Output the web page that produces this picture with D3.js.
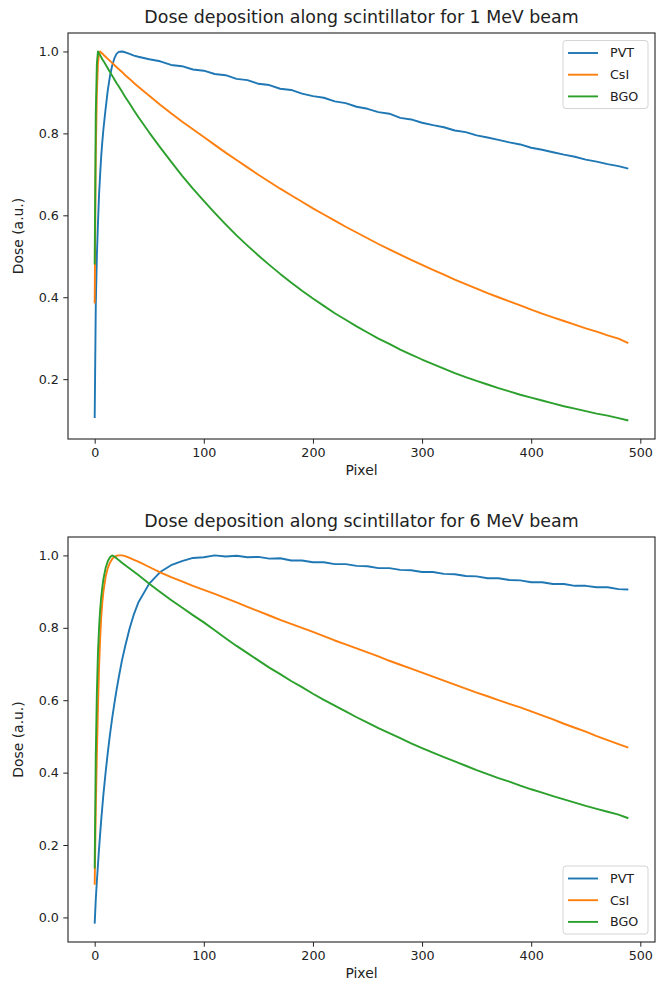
<!DOCTYPE html>
<html>
<head>
<meta charset="utf-8">
<script src="https://cdn.jsdelivr.net/npm/d3@7"></script>
<style>
    body { margin: 0; background: #fff; }
    svg { display: block; font-family: "DejaVu Sans", sans-serif; }
</style>
</head>
<body>
<div id="chart"></div>
<script>
// sampled pixel positions (shared by both panels)
const pixels = [0, 1, 2, 3, 4, 5, 6, 7, 8, 10, 12, 14, 16, 18, 20, 22, 25, 28, 32, 36, 40,
    50, 60, 70, 80, 90, 100, 110, 120, 130, 140, 150, 160, 170, 180, 190,
    200, 210, 220, 230, 240, 250, 260, 270, 280, 290, 300, 310, 320, 330, 340,
    350, 360, 370, 380, 390, 400, 410, 420, 430, 440, 450, 460, 470, 480, 489];

const seriesNames = ['PVT', 'CsI', 'BGO'];
const titles = [
    'Dose deposition along scintillator for 1 MeV beam',
    'Dose deposition along scintillator for 6 MeV beam'
];
const xTicks = [0, 100, 200, 300, 400, 500];
const yTicksTop = [0.2, 0.4, 0.6, 0.8, 1.0];
const yTicksBottom = [0.0, 0.2, 0.4, 0.6, 0.8, 1.0];

// 1 MeV
const pvt1 = [0.105, 0.38, 0.50, 0.58, 0.65, 0.70, 0.745, 0.78, 0.81, 0.86, 0.905, 0.94, 0.965, 0.983, 0.994, 0.999, 1.0, 0.998, 0.994, 0.99, 0.987,
    0.981, 0.976, 0.967, 0.964, 0.956, 0.953, 0.945, 0.942, 0.933, 0.93, 0.921, 0.918, 0.909, 0.906, 0.897,
    0.891, 0.887, 0.878, 0.874, 0.865, 0.86, 0.852, 0.848, 0.838, 0.834, 0.826, 0.82, 0.815, 0.807, 0.803,
    0.795, 0.79, 0.784, 0.778, 0.773, 0.765, 0.76, 0.754, 0.748, 0.743, 0.736, 0.731, 0.725, 0.72, 0.714];
const csi1 = [0.385, 0.75, 0.9, 0.97, 0.995, 1.0, 0.997, 0.995, 0.992, 0.987, 0.982, 0.977, 0.972, 0.967, 0.962, 0.957, 0.95, 0.942, 0.933, 0.923, 0.914,
    0.892, 0.87, 0.849, 0.829, 0.81, 0.791, 0.772, 0.753, 0.735, 0.717, 0.699, 0.682, 0.665, 0.649, 0.633,
    0.617, 0.602, 0.587, 0.572, 0.558, 0.544, 0.53, 0.517, 0.504, 0.491, 0.479, 0.467, 0.455, 0.443, 0.432,
    0.421, 0.41, 0.4, 0.39, 0.38, 0.37, 0.36, 0.351, 0.342, 0.333, 0.324, 0.316, 0.307, 0.299, 0.288];
const bgo1 = [0.48, 0.85, 0.97, 1.0, 0.995, 0.991, 0.986, 0.981, 0.977, 0.968, 0.959, 0.95, 0.941, 0.932, 0.923, 0.915, 0.902, 0.889, 0.873, 0.856, 0.84,
    0.802, 0.766, 0.731, 0.697, 0.665, 0.635, 0.606, 0.578, 0.551, 0.526, 0.502, 0.479, 0.457, 0.436, 0.416,
    0.397, 0.379, 0.361, 0.345, 0.329, 0.314, 0.299, 0.286, 0.272, 0.26, 0.248, 0.237, 0.226, 0.215, 0.205,
    0.196, 0.187, 0.178, 0.17, 0.162, 0.155, 0.148, 0.141, 0.134, 0.128, 0.122, 0.116, 0.111, 0.105, 0.099];

// 6 MeV
const pvt6 = [-0.017, 0.05, 0.1, 0.145, 0.19, 0.23, 0.27, 0.305, 0.34, 0.4, 0.455, 0.505, 0.55, 0.59, 0.628, 0.662, 0.71, 0.75, 0.798, 0.838, 0.87,
    0.922, 0.954, 0.973, 0.984, 0.993, 0.995, 1.0, 0.997, 0.999, 0.995, 0.996, 0.991, 0.992, 0.986, 0.986,
    0.981, 0.981, 0.976, 0.976, 0.971, 0.97, 0.965, 0.965, 0.96, 0.959, 0.954, 0.954, 0.949, 0.948, 0.943,
    0.942, 0.937, 0.937, 0.932, 0.931, 0.926, 0.926, 0.921, 0.921, 0.916, 0.916, 0.912, 0.912, 0.907, 0.906];
const csi6 = [0.09, 0.3, 0.45, 0.58, 0.69, 0.77, 0.83, 0.87, 0.9, 0.94, 0.965, 0.98, 0.99, 0.996, 0.999, 1.0, 1.0, 0.998, 0.993, 0.988, 0.983,
    0.968, 0.953, 0.94, 0.928, 0.916, 0.905, 0.894, 0.882, 0.87, 0.858, 0.846, 0.834, 0.822, 0.811, 0.8,
    0.789, 0.777, 0.765, 0.754, 0.743, 0.732, 0.721, 0.709, 0.698, 0.687, 0.676, 0.665, 0.654, 0.643, 0.632,
    0.621, 0.611, 0.6, 0.59, 0.58, 0.569, 0.558, 0.547, 0.535, 0.524, 0.513, 0.501, 0.49, 0.479, 0.469];
const bgo6 = [0.135, 0.45, 0.62, 0.73, 0.8, 0.85, 0.885, 0.912, 0.935, 0.965, 0.984, 0.995, 1.0, 0.997, 0.992, 0.987, 0.98, 0.973, 0.964, 0.955, 0.946,
    0.922, 0.899, 0.877, 0.856, 0.835, 0.815, 0.793, 0.771, 0.75, 0.73, 0.71, 0.69, 0.672, 0.653, 0.636,
    0.618, 0.601, 0.585, 0.569, 0.553, 0.538, 0.523, 0.509, 0.495, 0.481, 0.468, 0.455, 0.443, 0.431, 0.419,
    0.407, 0.396, 0.385, 0.375, 0.364, 0.354, 0.345, 0.335, 0.326, 0.317, 0.308, 0.3, 0.292, 0.284, 0.274];

const COLORS = ['#1f77b4', '#ff7f0e', '#2ca02c'];
const WIDTH = 667;
const HEIGHT = 985;
const LEFT = 68;
const RIGHT = 655;

const svg = d3.select('#chart')
    .append('svg')
    .attr('width', WIDTH)
    .attr('height', HEIGHT);

// matplotlib style 5% margins
function padded(extent) {
    const pad = (extent[1] - extent[0]) * 0.05;
    return [extent[0] - pad, extent[1] + pad];
}

function drawPanel(opts) {
    const { top, bottom, series, title, yTicks, legendTop } = opts;
    const g = svg.append('g');

    const xScale = d3.scaleLinear()
        .domain(padded(d3.extent(pixels)))
        .range([LEFT, RIGHT]);

    const allVals = [].concat(...series);
    const yScale = d3.scaleLinear()
        .domain(padded(d3.extent(allVals)))
        .range([bottom, top]);

    // Axes
    const xAxis = g.append('g')
        .attr('transform', `translate(0,${bottom})`)
        .call(d3.axisBottom(xScale).tickValues(xTicks).tickSize(4.7).tickPadding(4.5).tickSizeOuter(0));
    const yAxis = g.append('g')
        .attr('transform', `translate(${LEFT},0)`)
        .call(d3.axisLeft(yScale).tickValues(yTicks).tickFormat(d3.format('.1f')).tickSize(4.7).tickPadding(4.5).tickSizeOuter(0));

    [xAxis, yAxis].forEach(a => {
        a.select('.domain').remove();
        a.selectAll('line').attr('stroke', '#222').attr('stroke-width', 1);
        a.selectAll('text')
            .attr('fill', '#222')
            .style('font-size', '12.7px')
            .style('font-family', '"DejaVu Sans", sans-serif');
    });

    // Lines
    const line = d3.line()
        .x((d, i) => xScale(pixels[i]))
        .y(d => yScale(d));

    g.selectAll('path.series')
        .data(series)
        .enter()
        .append('path')
        .attr('class', 'series')
        .attr('d', d => line(d))
        .attr('fill', 'none')
        .attr('stroke', (d, i) => COLORS[i])
        .attr('stroke-width', 1.9)
        .attr('stroke-linejoin', 'round');

    // Frame
    g.append('rect')
        .attr('x', LEFT)
        .attr('y', top)
        .attr('width', RIGHT - LEFT)
        .attr('height', bottom - top)
        .attr('fill', 'none')
        .attr('stroke', '#222')
        .attr('stroke-width', 1.1);

    // Title and labels
    g.append('text')
        .attr('x', (LEFT + RIGHT) / 2)
        .attr('y', top - 10)
        .attr('text-anchor', 'middle')
        .attr('fill', '#222')
        .style('font-size', '17.4px')
        .text(title);

    g.append('text')
        .attr('x', (LEFT + RIGHT) / 2)
        .attr('y', bottom + 36)
        .attr('text-anchor', 'middle')
        .attr('fill', '#222')
        .style('font-size', '13.9px')
        .text('Pixel');

    g.append('text')
        .attr('transform', `translate(18,${(top + bottom) / 2}) rotate(-90)`)
        .attr('text-anchor', 'middle')
        .attr('dy', '0.35em')
        .attr('fill', '#222')
        .style('font-size', '13.9px')
        .text('Dose (a.u.)');

    // Legend
    const lg = g.append('g')
        .attr('transform', `translate(563,${legendTop})`);
    lg.append('rect')
        .attr('width', 85)
        .attr('height', 68)
        .attr('rx', 3)
        .attr('fill', 'rgba(255,255,255,0.8)')
        .attr('stroke', '#d4d4d4')
        .attr('stroke-width', 1);
    const items = lg.selectAll('g.item')
        .data(seriesNames)
        .enter()
        .append('g')
        .attr('class', 'item')
        .attr('transform', (d, i) => `translate(0,${12.5 + i * 21.7})`);
    items.append('line')
        .attr('x1', 5)
        .attr('x2', 35)
        .attr('stroke', (d, i) => COLORS[i])
        .attr('stroke-width', 1.9);
    items.append('text')
        .attr('x', 47)
        .attr('dy', '0.35em')
        .attr('fill', '#222')
        .style('font-size', '12.7px')
        .text(d => d);
}

drawPanel({
    top: 33,
    bottom: 439,
    series: [pvt1, csi1, bgo1],
    title: titles[0],
    yTicks: yTicksTop,
    legendTop: 40.5
});

drawPanel({
    top: 537,
    bottom: 942,
    series: [pvt6, csi6, bgo6],
    title: titles[1],
    yTicks: yTicksBottom,
    legendTop: 866
});
</script>
</body>
</html>
